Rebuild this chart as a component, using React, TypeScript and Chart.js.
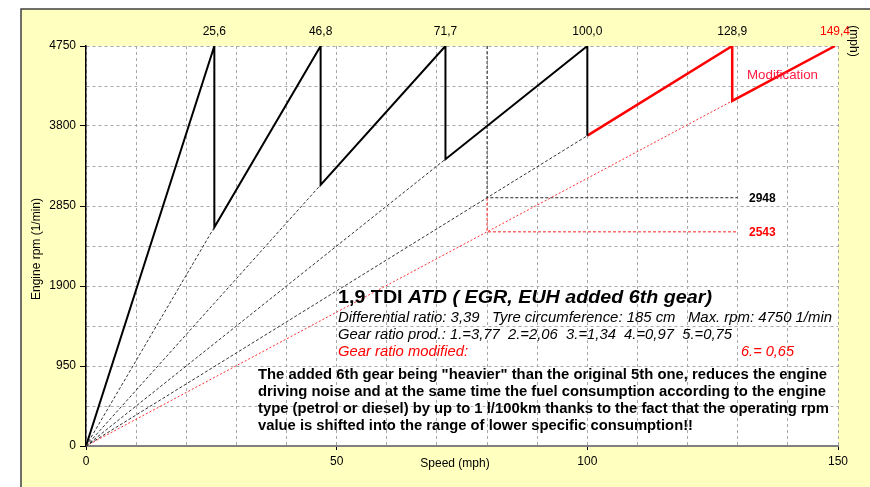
import React, { useEffect, useRef } from "react";
import { Chart, registerables } from "chart.js";

Chart.register(...registerables);

// ---- data ----
const maxRpm = 4750;
const gearTopSpeeds = [25.6, 46.8, 71.7, 100.0, 128.9, 149.4];
const gearTopLabels = ["25,6", "46,8", "71,7", "100,0", "128,9", "149,4"];

const prodSpeed = [0, 25.6, 25.6, 46.8, 46.8, 71.7, 71.7, 100.0, 100.0];
const prodRpm = [0, 4750, 2598, 4750, 3100, 4750, 3406, 4750, 3685];

const modSpeed = [100.0, 128.9, 128.9, 149.4];
const modRpm = [3685, 4750, 4098, 4750];

const rayEndSpeed = [25.6, 46.8, 71.7, 100.0];
const rayEndRpm = [2598, 3100, 3406, 3685];
const modRayEndSpeed = 128.9;
const modRayEndRpm = 4098;

const markerSpeed = 80;
const markerEndSpeed = 130;
const rpm5th = 2948;
const rpm6th = 2543;

const FONT = "'Liberation Sans', Arial, sans-serif";

const pts = (xs: number[], ys: number[]) => xs.map((x, i) => ({ x, y: ys[i] }));

function fitText(ctx: any, text: string, x: number, y: number, width: number) {
  const w = ctx.measureText(text).width;
  const k = width / w;
  ctx.save();
  ctx.translate(x, y);
  ctx.scale(k, 1);
  ctx.fillText(text, 0, 0);
  ctx.restore();
}

const bgPlugin = {
  id: "bg",
  beforeDraw(chart: any) {
    const { ctx, chartArea } = chart;
    ctx.save();
    ctx.fillStyle = "#ffffff";
    ctx.fillRect(0, 0, chart.width, chart.height);
    ctx.fillStyle = "#FFFFC0";
    ctx.fillRect(21, 9, chart.width - 21, chart.height - 9);
    ctx.strokeStyle = "#404040";
    ctx.lineWidth = 1.5;
    ctx.beginPath();
    ctx.moveTo(21, chart.height);
    ctx.lineTo(21, 9);
    ctx.lineTo(chart.width, 9);
    ctx.stroke();
    ctx.fillStyle = "#ffffff";
    ctx.fillRect(chartArea.left, chartArea.top, chartArea.right - chartArea.left, chartArea.bottom - chartArea.top);
    ctx.restore();
  },
};

const textPlugin = {
  id: "texts",
  afterDraw(chart: any) {
    const { ctx } = chart;
    const xs = chart.scales.x;
    const ys = chart.scales.y;
    ctx.save();
    ctx.textBaseline = "middle";

    // top speed labels
    ctx.font = `12px ${FONT}`;
    ctx.textAlign = "center";
    gearTopSpeeds.forEach((s, i) => {
      ctx.fillStyle = i === gearTopSpeeds.length - 1 ? "#ff0000" : "#000";
      ctx.fillText(gearTopLabels[i], xs.getPixelForValue(s), 32);
    });

    // (mph) rotated
    ctx.save();
    ctx.translate(853, 41);
    ctx.rotate(Math.PI / 2);
    ctx.fillStyle = "#000";
    ctx.font = `12px ${FONT}`;
    ctx.fillText("(mph)", 0, 0);
    ctx.restore();

    // axis titles
    ctx.save();
    ctx.translate(37, 249);
    ctx.rotate(-Math.PI / 2);
    ctx.fillStyle = "#000";
    ctx.font = `12px ${FONT}`;
    ctx.fillText("Engine rpm (1/min)", 0, 0);
    ctx.restore();
    ctx.font = `12px ${FONT}`;
    ctx.fillStyle = "#000";
    ctx.fillText("Speed (mph)", 455, 464);

    // marker values
    ctx.textAlign = "left";
    ctx.font = `bold 12px ${FONT}`;
    ctx.fillStyle = "#000";
    ctx.fillText(String(rpm5th), 749, ys.getPixelForValue(rpm5th) + 1);
    ctx.fillStyle = "#ff0000";
    ctx.fillText(String(rpm6th), 749, ys.getPixelForValue(rpm6th) + 1);

    // Modification
    ctx.font = `13px ${FONT}`;
    ctx.fillStyle = "#ff1a40";
    fitText(ctx, "Modification", 747, 75, 71);

    // info block
    ctx.fillStyle = "#000";
    ctx.font = `bold 18px ${FONT}`;
    const t1 = "1,9 TDI ";
    const t2 = "ATD ( EGR, EUH added 6th gear)";
    const w1 = ctx.measureText(t1).width;
    ctx.font = `italic bold 18px ${FONT}`;
    const w2 = ctx.measureText(t2).width;
    const k = 374 / (w1 + w2);
    ctx.save();
    ctx.translate(338, 298);
    ctx.scale(k, 1);
    ctx.font = `bold 18px ${FONT}`;
    ctx.fillText(t1, 0, 0);
    ctx.font = `italic bold 18px ${FONT}`;
    ctx.fillText(t2, w1, 0);
    ctx.restore();

    ctx.font = `italic 14px ${FONT}`;
    fitText(ctx, "Differential ratio: 3,39   Tyre circumference: 185 cm   Max. rpm: 4750 1/min", 338, 318, 494);
    fitText(ctx, "Gear ratio prod.: 1.=3,77  2.=2,06  3.=1,34  4.=0,97  5.=0,75", 338, 335, 394);
    ctx.fillStyle = "#ff0000";
    fitText(ctx, "Gear ratio modified:", 338, 352, 130);
    fitText(ctx, "6.= 0,65", 741, 352, 53);

    ctx.fillStyle = "#000";
    ctx.font = `bold 14px ${FONT}`;
    const para = [
      'The added 6th gear being "heavier" than the original 5th one, reduces the engine',
      "driving noise and at the same time the fuel consumption according to the engine",
      "type (petrol or diesel) by up to 1 l/100km thanks to the fact that the operating rpm",
      "value is shifted into the range of lower specific consumption!!",
    ];
    const paraW = [569, 568, 571, 435];
    para.forEach((l, i) => fitText(ctx, l, 258, 375 + i * 17.2, paraW[i]));
    ctx.restore();
  },
};

export default function App() {
  const ref = useRef<HTMLCanvasElement>(null);
  useEffect(() => {
    if (!ref.current) return;
    const solid = { pointRadius: 0, fill: false, tension: 0 };
    const datasets: any[] = [
      ...rayEndSpeed.map((s, i) => ({
        ...solid,
        data: pts([0, s], [0, rayEndRpm[i]]),
        borderColor: "#333",
        borderWidth: 1,
        borderDash: [3, 2],
      })),
      {
        ...solid,
        data: pts([0, modRayEndSpeed], [0, modRayEndRpm]),
        borderColor: "#ff3030",
        borderWidth: 1,
        borderDash: [2, 2],
      },
      {
        ...solid,
        data: pts([markerSpeed, markerSpeed, markerEndSpeed], [maxRpm, rpm5th, rpm5th]),
        borderColor: "#222",
        borderWidth: 1,
        borderDash: [3, 2],
      },
      {
        ...solid,
        data: pts([markerSpeed, markerSpeed, markerEndSpeed], [rpm5th, rpm6th, rpm6th]),
        borderColor: "#ff2020",
        borderWidth: 1,
        borderDash: [3, 2],
      },
      {
        ...solid,
        data: pts(prodSpeed, prodRpm),
        borderColor: "#000",
        borderWidth: 2,
      },
      {
        ...solid,
        data: pts(modSpeed, modRpm),
        borderColor: "#ff0000",
        borderWidth: 2.5,
      },
    ];
    const chart = new Chart(ref.current, {
      type: "line",
      data: { datasets },
      options: {
        animation: false,
        responsive: false,
        devicePixelRatio: 1,
        events: [],
        layout: { padding: { left: 21, right: 32, top: 46, bottom: 0 } },
        plugins: { legend: { display: false }, tooltip: { enabled: false } },
        scales: {
          x: {
            type: "linear",
            min: 0,
            max: 150,
            afterFit: (s: any) => {
              s.height = 41;
            },
            ticks: {
              stepSize: 10,
              autoSkip: false,
              maxRotation: 0,
              padding: 4,
              color: "#000",
              font: { family: FONT, size: 12 },
              callback: (v: any) => (Number(v) % 50 === 0 ? String(v) : ""),
            },
            grid: {
              color: "#a8a8a8",
              lineWidth: 1,
              tickLength: 4,
              tickColor: (c: any) => (c.tick && c.tick.value % 50 === 0 ? "#000" : "rgba(0,0,0,0)"),
            },
            border: { color: "#808080", width: 2, dash: [3, 3] },
          },
          y: {
            type: "linear",
            min: 0,
            max: maxRpm,
            afterFit: (s: any) => {
              s.width = 65;
            },
            ticks: {
              stepSize: 475,
              autoSkip: false,
              padding: 4,
              color: "#000",
              font: { family: FONT, size: 12 },
              callback: (v: any) => (Number(v) % 950 === 0 ? String(v) : ""),
            },
            grid: {
              color: "#a8a8a8",
              lineWidth: 1,
              tickLength: 6,
              tickColor: (c: any) => (c.tick && c.tick.value % 950 === 0 ? "#000" : "rgba(0,0,0,0)"),
            },
            border: { color: "#000", width: 1.5, dash: [3, 3] },
          },
        },
      },
      plugins: [bgPlugin, textPlugin],
    });
    return () => chart.destroy();
  }, []);
  return (
    <div style={{ position: "fixed", left: 0, top: 0, width: 870, height: 487 }}>
      <canvas ref={ref} width={870} height={487} style={{ display: "block" }} />
    </div>
  );
}
